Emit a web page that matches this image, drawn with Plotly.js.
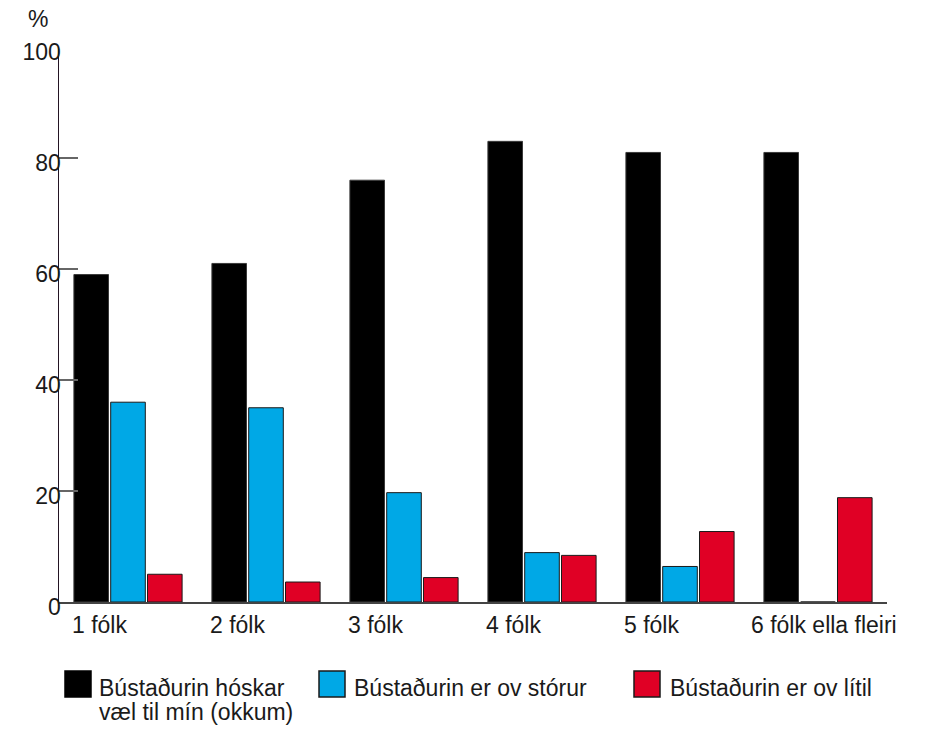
<!DOCTYPE html>
<html>
<head>
<meta charset="utf-8">
<script src="https://cdn.plot.ly/plotly-3.0.1.min.js"></script>
<style>html,body{margin:0;padding:0;background:#fff;}</style>
</head>
<body>
<div id="chart" style="width:931px;height:729px;"></div>
<script>
// ---- data ----
const categories = ["1 fólk", "2 fólk", "3 fólk", "4 fólk", "5 fólk", "6 fólk ella fleiri"];
const seriesNames = ["Bústaðurin hóskar<br>væl til mín (okkum)", "Bústaðurin er ov stórur", "Bústaðurin er ov lítil"];
const fitsWell = [59, 61, 76, 83, 81, 81];
const tooBig = [36, 35, 19.7, 8.9, 6.4, 0];
const tooSmall = [5, 3.6, 4.4, 8.4, 12.7, 18.8];
const yTicks = [0, 20, 40, 60, 80, 100];
const yUnit = "%";

// ---- styles ----
const colors = ["#000000", "#00A8E6", "#E00025"];
const FONT = "Liberation Sans, Arial, sans-serif";
const W = 931, H = 729;
const M = {l: 59, r: 44, t: 47, b: 127};
const PW = W - M.l - M.r, PH = H - M.t - M.b;
const px2x = p => (p - M.l) / PW;
const px2y = p => (H - M.b - p) / PH;

const values = [fitsWell, tooBig, tooSmall];
const traces = values.map((v, i) => ({
  type: "bar",
  x: categories,
  y: v,
  name: seriesNames[i],
  showlegend: false,
  marker: {color: colors[i], line: {color: i === 0 ? "#3a3a3a" : "#1a1a1a", width: 1}},
  hoverinfo: "x+y"
}));

const annotations = [];
const shapes = [];

// x category labels (left aligned at group start)
categories.forEach((c, i) => {
  annotations.push({
    x: i - 0.4, xref: "x", xanchor: "left",
    xshift: i === categories.length - 1 ? -14 : -3,
    y: px2y(625), yref: "paper", yanchor: "middle",
    text: c, showarrow: false,
    font: {family: FONT, size: 23, color: "#1a1a1a"}
  });
});

// unit label
annotations.push({
  x: px2x(38), xref: "paper", xanchor: "center",
  y: px2y(19), yref: "paper", yanchor: "middle",
  text: yUnit, showarrow: false,
  font: {family: FONT, size: 23, color: "#1a1a1a"}
});

// legend (manual)
const legendItems = [
  {sq: 65, tx: 97},
  {sq: 319, tx: 352},
  {sq: 634, tx: 668}
];
seriesNames.forEach((name, i) => {
  const li = legendItems[i];
  shapes.push({
    type: "rect", xref: "paper", yref: "paper",
    x0: px2x(li.sq), x1: px2x(li.sq + 26),
    y0: px2y(697), y1: px2y(671),
    fillcolor: colors[i],
    line: {color: i === 0 ? colors[0] : "#1a1a1a", width: 1.5}
  });
  name.split("<br>").forEach((line, k) => {
    annotations.push({
      x: px2x(li.tx), xref: "paper", xanchor: "left",
      y: px2y(688 + k * 24), yref: "paper", yanchor: "middle",
      text: line, showarrow: false,
      font: {family: FONT, size: 23, color: "#1a1a1a"}
    });
  });
});

const layout = {
  width: W, height: H,
  margin: M,
  paper_bgcolor: "#fff", plot_bgcolor: "#fff",
  font: {family: FONT, size: 23, color: "#1a1a1a"},
  barmode: "group",
  bargap: 0.2,
  bargroupgap: 0.06,
  xaxis: {
    type: "category",
    range: [-0.5, 5.5],
    showticklabels: false,
    ticks: "",
    showgrid: false,
    zeroline: false,
    showline: true,
    linecolor: "#444",
    linewidth: 2,
    fixedrange: true
  },
  yaxis: {
    range: [0, 100],
    tickvals: yTicks,
    ticktext: yTicks.map(String),
    ticks: "inside",
    ticklen: 19,
    tickwidth: 1.5,
    tickcolor: "#666",
    ticklabelstandoff: -8,
    ticklabelshift: 5,
    showgrid: false,
    zeroline: false,
    showline: true,
    linecolor: "#231423",
    linewidth: 1.5,
    tickfont: {family: FONT, size: 23, color: "#1a1a1a"},
    fixedrange: true
  },
  showlegend: false,
  annotations: annotations,
  shapes: shapes
};

Plotly.newPlot("chart", traces, layout, {displayModeBar: false, staticPlot: true});
</script>
</body>
</html>
